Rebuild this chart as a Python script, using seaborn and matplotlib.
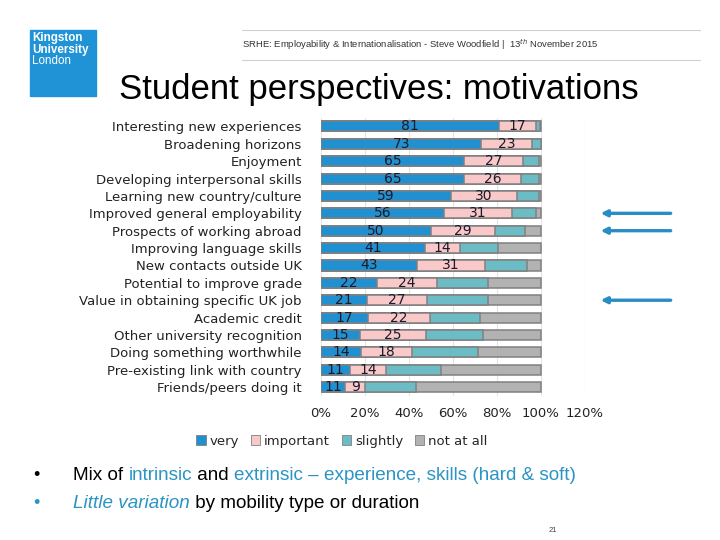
import pandas as pd
import matplotlib.pyplot as plt
import seaborn as sns
from matplotlib.patches import Rectangle, Patch

# --- Data (survey responses) ---
motivations = [
    "Interesting new experiences", "Broadening horizons", "Enjoyment",
    "Developing interpersonal skills", "Learning new country/culture",
    "Improved general employability", "Prospects of working abroad",
    "Improving language skills", "New contacts outside UK",
    "Potential to improve grade", "Value in obtaining specific UK job",
    "Academic credit", "Other university recognition",
    "Doing something worthwhile", "Pre-existing link with country",
    "Friends/peers doing it",
]
very = [81, 73, 65, 65, 59, 56, 50, 41, 43, 22, 21, 17, 15, 14, 11, 11]
important = [17, 23, 27, 26, 30, 31, 29, 14, 31, 24, 27, 22, 25, 18, 14, 9]
slightly = [1.5, 4, 7, 8, 10, 11, 14, 15, 19, 20, 28, 18, 22, 23, 21, 23]
not_at_all = [0.5, 0, 1, 1, 1, 2, 7, 17, 6, 21, 24, 22, 22, 22, 38, 57]
levels = ["very", "important", "slightly", "not at all"]
highlighted = [5, 6, 10]  # rows flagged with arrows

colors = ["#2190d0", "#f9c8c8", "#6cbcc5", "#b2b2b2"]
edge = "#808080"
blue_text = "#2a94c4"

df = pd.DataFrame({"Motivation": motivations, "very": very, "important": important,
                   "slightly": slightly, "not at all": not_at_all})
total = df[levels].sum(axis=1)
pct = df[levels].div(total, axis=0) * 100
cum = pct.cumsum(axis=1)

sns.set_style("white")
plt.rcParams["font.family"] = ["DejaVu Sans"]

fig = plt.figure(figsize=(7.2, 5.4), dpi=100)
ax = fig.add_axes([0.446, 0.267, 0.366, 0.515])

# stacked bars: draw cumulative totals from the widest down
for lvl, col in reversed(list(zip(levels, colors))):
    sns.barplot(x=cum[lvl], y=df["Motivation"], orient="h", color=col,
                edgecolor=edge, linewidth=1.1, width=0.58, saturation=1, ax=ax)

# value labels for the first two segments
for i in range(len(df)):
    starts = [0, cum["very"][i]]
    for j, lvl in enumerate(["very", "important"]):
        mid = starts[j] + pct[lvl][i] / 2
        ax.text(mid, i, f"{df[lvl][i]:g}", ha="center", va="center",
                fontsize=10, color="#1a1a2a")

ax.set_xlim(0, 120)
ax.set_xticks(range(0, 121, 20))
ax.set_xticklabels([f"{t}%" for t in range(0, 121, 20)], fontsize=9.5, color="#222222")
ax.set_xlabel("")
ax.set_ylabel("")
ax.tick_params(axis="y", labelsize=9.5, colors="#222222", length=0, pad=14)
ax.tick_params(axis="x", length=0, pad=8)
ax.grid(axis="x", color="#e4e4e4", linewidth=0.8)
ax.set_axisbelow(True)
for s in ax.spines.values():
    s.set_visible(False)

# arrows pointing at selected rows
for r in highlighted:
    ax.annotate("", xy=(1.05, r), xytext=(1.337, r),
                xycoords=("axes fraction", "data"), textcoords=("axes fraction", "data"),
                arrowprops=dict(arrowstyle="-|>", color="#2a8cc4", lw=2.4, mutation_scale=9),
                annotation_clip=False)

handles = [Patch(facecolor=c, edgecolor=edge, linewidth=0.6) for c in colors]
fig.legend(handles, levels, loc="center", bbox_to_anchor=(0.475, 0.183), ncol=4,
           frameon=False, fontsize=9.5, handlelength=0.7, handleheight=0.7,
           handletextpad=0.3, columnspacing=0.9)

# --- slide furniture ---
over = fig.add_axes([0, 0, 1, 1])
over.set_xlim(0, 720)
over.set_ylim(540, 0)
over.axis("off")

over.add_patch(Rectangle((30, 30), 66, 66, color="#1f93d6"))
over.text(32, 38, "Kingston", fontsize=8.4, color="white", weight="bold",
          family="Liberation Sans", va="center")
over.text(32, 50, "University", fontsize=8.4, color="white", weight="bold",
          family="Liberation Sans", va="center")
over.text(32, 61, "London", fontsize=8.4, color="white", family="Liberation Sans", va="center")

over.plot([242, 700], [30, 30], color="#d0d0d0", lw=0.8)
over.plot([242, 700], [60, 60], color="#d0d0d0", lw=0.8)
over.text(242, 45, "SRHE: Employability & Internationalisation - Steve Woodfield |  13$^{th}$ November 2015",
          fontsize=6.8, family="Liberation Sans", va="center", color="#333333")
over.text(379, 90, "Student perspectives: motivations", fontsize=25,
          family="Liberation Sans", ha="center", va="center", color="black")

# bullets with coloured runs
def run_line(y, parts, bullet_color):
    over.text(33, y, "\u2022", fontsize=13, family="Liberation Sans",
              color=bullet_color, va="center")
    prev = None
    for txt, col, style in parts:
        if prev is None:
            prev = over.text(73, y, txt, fontsize=13.6, family="Liberation Sans",
                             color=col, style=style, va="center")
        else:
            prev = over.annotate(txt, xy=(1, 0), xycoords=prev, va="bottom",
                                 fontsize=13.6, family="Liberation Sans",
                                 color=col, style=style)

run_line(475, [("Mix of ", "black", "normal"), ("intrinsic", blue_text, "normal"),
               (" and ", "black", "normal"),
               ("extrinsic \u2013 experience, skills (hard & soft)", blue_text, "normal")],
         "black")
run_line(503, [("Little variation", blue_text, "italic"),
               (" by mobility type or duration", "black", "normal")], blue_text)

over.text(553, 530, "21", fontsize=5.5, family="Liberation Sans", ha="center",
          va="center", color="#444444")

fig.savefig("out.png", dpi=100)
